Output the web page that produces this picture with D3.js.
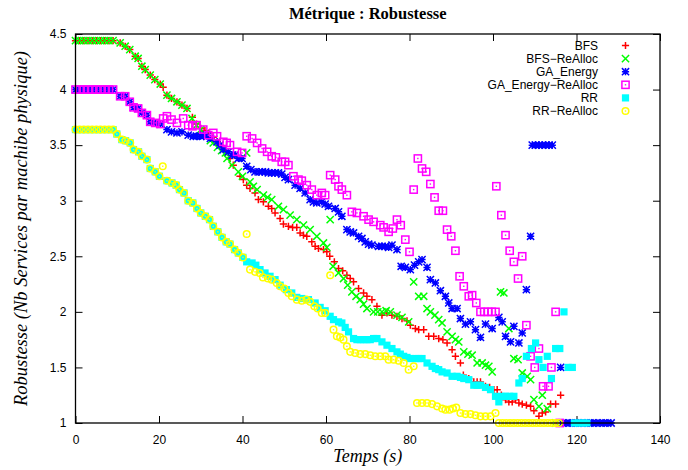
<!DOCTYPE html>
<html><head><meta charset="utf-8">
<script src="https://cdn.jsdelivr.net/npm/d3@7"></script>
<style>body{margin:0;background:#fff}svg{display:block}</style>
</head><body><svg id="c" width="688" height="470"></svg>
<script>
// ---- data (time in s, robustness) ----
const xTicks = [0,20,40,60,80,100,120,140];
const yTicks = [1,1.5,2,2.5,3,3.5,4,4.5];
const seriesNames = ["BFS","BFS\u2212ReAlloc","GA_Energy","GA_Energy\u2212ReAlloc","RR","RR\u2212ReAlloc"];

const BFS = [[0,4.44],[1,4.44],[2,4.44],[3,4.44],[4,4.44],[5,4.44],[6,4.44],[7,4.44],[8,4.44],[9,4.44],
[10.7,4.42],[11.9,4.39],[13,4.36],[14.3,4.30],[15,4.28],[15.9,4.21],[16.7,4.18],[17.9,4.13],[19,4.09],[20.3,4.05],[21,4.02],
[21.9,3.95],[23,3.92],[24.3,3.89],[25.5,3.86],[26.7,3.83],[28,3.75],[29,3.69],[30,3.65],[31,3.63],[32,3.61],[33,3.57],[34,3.53],
[35,3.49],[36,3.44],[37,3.38],[37.8,3.32],[39.4,3.22],[40.2,3.19],[41,3.14],[41.8,3.11],[43,3.07],[43.8,3.01],[45,2.99],[46.2,2.95],
[47,2.93],[47.8,2.89],[49,2.84],[49.8,2.79],[51,2.77],[52,2.76],[53,2.76],[53.8,2.71],[54.6,2.69],[55.4,2.68],[56.6,2.63],[57.4,2.59],
[58.2,2.57],[59.4,2.56],[60.2,2.54],[60.9,2.50],[62,2.45],[63,2.39],[64,2.37],[65,2.33],[65.8,2.30],[66.6,2.27],[67.8,2.21],[69,2.17],
[69.8,2.14],[71,2.11],[72.2,2.05],[73.4,1.97],[74.6,1.99],[75.8,1.97],[77,1.96],[78.2,1.94],[79.4,1.92],[80.2,1.88],[81.4,1.85],
[82.2,1.84],[83.4,1.84],[84.6,1.78],[85.8,1.78],[87,1.76],[88,1.75],[89,1.72],[90.2,1.66],[91,1.60],[92.2,1.54],[92.9,1.43],[94.2,1.40],
[95.4,1.37],[96.2,1.37],[97,1.37],[98.2,1.33],[99.2,1.32],[100.2,1.30],[101,1.30],[102,1.25],[103,1.21],[103.8,1.19],[104.6,1.19],
[105.4,1.21],[106.2,1.18],[107,1.17],[108,1.16],[109,1.15],[109.8,1.11],[111,1.06],[111.8,1.09],[112.6,1.10],[113.8,1.17],[115,1.17],[116.2,1.25]];

const BFS_REALLOC = [[0,4.44],[1,4.44],[2,4.44],[3,4.44],[4,4.44],[5,4.44],[6,4.44],[7,4.44],[8,4.44],[9,4.44],
[10.7,4.42],[11.9,4.39],[13,4.36],[14.3,4.30],[15,4.28],[15.9,4.21],[16.7,4.18],[17.9,4.13],[19,4.09],[20.3,4.05],[21.9,3.95],
[23,3.92],[24.3,3.89],[25.5,3.86],[26.7,3.83],[27.9,3.74],[29,3.68],[30,3.64],[31,3.60],[32.3,3.54],[33,3.52],[34,3.48],[35,3.45],
[35.9,3.43],[36.3,3.38],[37.5,3.32],[39,3.26],[40,3.22],[41,3.43],[41.8,3.17],[42.6,3.13],[43.5,3.10],[45,3.05],[46,3.03],[47,3.01],
[48.6,2.95],[49.8,2.92],[51.4,2.87],[53,2.83],[54.6,2.78],[56.2,2.74],[57.8,2.68],[59.4,2.62],[60.2,2.58],[61,2.83],[61.7,2.41],
[63,2.35],[64.2,2.30],[65.2,2.24],[66.2,2.18],[67.2,2.14],[68.2,2.11],[69,2.07],[69.8,2.03],[71.4,2.00],[72.4,2.00],[73.4,2.00],
[74.4,2.01],[75.4,2.00],[77,1.97],[78.2,1.95],[79.8,1.91],[81,2.27],[82.2,2.14],[83.4,2.14],[84.2,2.03],[85,2.00],[86.1,1.97],
[87,1.93],[87.8,1.90],[89,1.82],[90.2,1.78],[91,1.75],[91.8,1.73],[93,1.64],[94,1.62],[95,1.61],[96.2,1.54],[97.4,1.54],[98.2,1.52],
[99,1.51],[99.8,1.46],[101.8,2.18],[102.6,2.17],[103.8,1.85],[105,1.58],[106,1.57],[107,1.45],[108.2,1.42],[109,1.39],[109.8,1.21],
[111,1.15],[111.8,1.25],[113,1.13],[115,1.00]];

const GA_ENERGY = [[0,4.0],[1,4.0],[2,4.0],[3,4.0],[4,4.0],[5,4.0],[6,4.0],[7,4.0],[8,4.0],[9,4.0],
[10.7,3.94],[11.9,3.94],[13,3.89],[13.9,3.84],[15,3.83],[15.9,3.79],[17.1,3.77],[17.9,3.71],[19.1,3.70],[20.3,3.69],[21.9,3.64],
[23,3.62],[24.3,3.61],[25.5,3.62],[27,3.59],[28.2,3.58],[29,3.58],[30,3.58],[30.6,3.59],[31.5,3.58],[32.3,3.56],[33.9,3.53],
[34.6,3.50],[35.4,3.46],[36.6,3.44],[37.5,3.41],[38.2,3.41],[39,3.38],[39.9,3.38],[41,3.31],[42,3.28],[43,3.26],[44,3.26],[44.7,3.26],
[45.5,3.26],[46.2,3.25],[47,3.25],[47.8,3.25],[48.6,3.25],[49.4,3.24],[50.2,3.21],[51,3.19],[52.6,3.14],[53.8,3.11],[55,3.07],
[56.2,3.01],[57,2.99],[57.8,2.98],[59,2.99],[59.8,2.97],[60.6,2.95],[62.2,2.93],[63,2.90],[63.8,2.86],[65,2.74],[65.8,2.72],
[66.6,2.71],[67.8,2.68],[68.6,2.66],[69.4,2.63],[70.2,2.61],[71,2.60],[72.6,2.59],[73.4,2.59],[74.2,2.59],[75,2.58],[75.8,2.60],
[77,2.56],[78,2.41],[79,2.40],[80.2,2.38],[81.2,2.42],[82.2,2.45],[83,2.47],[84.2,2.40],[85,2.29],[86.2,2.26],[87.4,2.19],[88.6,2.14],
[89.4,2.08],[90.2,2.03],[91.4,2.03],[92.2,1.94],[93.4,1.89],[94.6,1.91],[95.8,1.84],[97,1.77],[98.2,1.89],[99.8,1.85],[101.4,1.95],
[102.2,1.91],[103,1.78],[104.2,1.73],[105,1.87],[106.2,1.72],[107,1.81],[108,2.20],[109,2.68],[109.4,3.5],[110.2,3.5],[111,3.5],
[111.8,3.5],[112.6,3.5],[113.4,3.5],[114.2,3.5],[116.2,1.50],[116.6,1.0],[117.5,1.0],[118.4,1.0],[119.3,1.0],[120.2,1.0],[121.1,1.0],
[122,1.0],[122.9,1.0],[123.8,1.0],[124.7,1.0],[125.6,1.0],[126.5,1.0],[127.4,1.0],[128.3,1.0]];

const GA_ENERGY_REALLOC = [[0,4.0],[1,4.0],[2,4.0],[3,4.0],[4,4.0],[5,4.0],[6,4.0],[7,4.0],[8,4.0],[9,4.0],
[10.7,3.94],[11.9,3.94],[13,3.89],[13.9,3.84],[15,3.83],[15.9,3.79],[17.1,3.77],[17.9,3.71],[19.1,3.70],[20.3,3.69],[21,3.74],
[21.9,3.76],[23,3.73],[24.3,3.70],[25.8,3.74],[27,3.68],[28,3.67],[29,3.68],[30.6,3.64],[31.8,3.59],[33,3.61],[33.9,3.58],[35.4,3.53],
[36.2,3.52],[37,3.50],[38.7,3.44],[39.9,3.43],[41,3.58],[42.3,3.56],[43.5,3.52],[44.7,3.47],[45.9,3.44],[47,3.40],[48,3.39],
[49.4,3.35],[50.2,3.35],[51,3.32],[52.2,3.22],[53.4,3.19],[54.2,3.18],[55.4,3.14],[56.6,3.10],[57.8,3.05],[59,3.07],[59.8,3.05],
[61,3.23],[62.2,3.19],[63,3.13],[63.8,3.10],[65,3.05],[66.2,2.90],[67.4,2.89],[69,2.86],[70.2,2.83],[71.4,2.81],[73,2.78],[73.8,2.76],
[75,2.72],[76,2.75],[77,2.83],[77.9,2.78],[79,2.65],[80,2.54],[81,3.10],[82,3.38],[83,3.29],[84,3.26],[85,3.15],[86,3.03],[87,2.91],
[88,2.91],[89,2.74],[90,2.68],[91,2.55],[92,2.32],[93,2.23],[94.2,2.14],[95,2.15],[96,2.08],[97,2.00],[97.9,2.00],[98.8,2.00],
[99.7,2.00],[100.6,2.00],[100.8,3.13],[102,2.87],[103,2.69],[104,2.55],[105,2.45],[106,2.30],[107,2.50],[108,1.88],[109,1.60],
[110,1.50],[111,1.67],[112,1.33],[113.3,1.33],[114,1.50],[115,2.00],[116,1.00]];

const RR = [[0,3.64],[1,3.64],[2,3.64],[3,3.64],[4,3.64],[5,3.64],[6,3.64],[7,3.64],[8,3.64],[9,3.64],
[9.9,3.60],[11.1,3.55],[12,3.54],[13.1,3.52],[13.9,3.46],[15.1,3.44],[15.9,3.40],[17.1,3.37],[17.9,3.29],[19.1,3.26],[20.1,3.22],
[21.9,3.18],[23.1,3.16],[24.1,3.14],[24.9,3.10],[26,3.07],[27,3.00],[28.1,2.98],[29.1,2.93],[30,2.89],[31.1,2.86],[32.1,2.83],
[33,2.77],[34.1,2.72],[35.1,2.67],[36.1,2.63],[37,2.61],[38.1,2.56],[39,2.53],[40.1,2.49],[41,2.45],[42.3,2.44],[43.2,2.42],
[44.2,2.38],[45.4,2.35],[46.6,2.32],[47.8,2.29],[49,2.24],[50.5,2.20],[51.8,2.17],[53,2.13],[54.2,2.12],[55.8,2.11],[57.4,2.08],
[58.6,2.04],[59.8,2.01],[61,1.96],[61.8,1.93],[63,1.91],[63.8,1.90],[64.6,1.86],[65.4,1.82],[66.6,1.76],[67.4,1.75],[68.2,1.75],
[69,1.75],[69.8,1.75],[70.6,1.75],[71.4,1.76],[72.2,1.76],[73.4,1.73],[74.6,1.70],[75.8,1.67],[77,1.64],[77.8,1.62],[78.6,1.60],
[79.4,1.59],[80.2,1.58],[81.4,1.58],[82.2,1.58],[83,1.58],[84.2,1.54],[85.4,1.51],[86.2,1.49],[87,1.48],[87.8,1.46],[89,1.45],
[90.2,1.42],[91.4,1.42],[92.2,1.41],[93,1.40],[94.2,1.39],[95.4,1.34],[96.2,1.34],[97,1.34],[98.2,1.32],[99.4,1.30],[100.6,1.24],
[101.4,1.19],[102.2,1.24],[103,1.24],[104,1.24],[105,1.24],[106.2,1.36],[107,1.40],[108,1.60],[109.2,1.67],[110.2,1.72],[111,1.57],
[112,1.50],[113,1.60],[114,1.40],[115,1.67],[116,1.67],[117,2.00],[118,1.50],[119,1.50],[119.5,1.0],[120.5,1.0],[121.5,1.0],[122.5,1.0]];

const RR_REALLOC = [[0,3.64],[1,3.64],[2,3.64],[3,3.64],[4,3.64],[5,3.64],[6,3.64],[7,3.64],[8,3.64],[9,3.64],
[9.9,3.60],[11.1,3.55],[12,3.54],[13.1,3.52],[13.9,3.46],[15.1,3.44],[15.9,3.40],[17.1,3.37],[17.9,3.29],[19.1,3.26],[20.1,3.22],
[20.9,3.31],[21.9,3.18],[23.1,3.16],[24.1,3.14],[24.9,3.10],[26,3.07],[27,3.00],[28.1,2.98],[29.1,2.93],[30,2.89],[31.1,2.86],
[32.1,2.83],[33,2.77],[34.1,2.72],[35.1,2.67],[36.1,2.63],[37,2.61],[38.1,2.56],[39,2.53],[40.1,2.49],[41,2.70],[41.8,2.38],[43,2.36],
[44.1,2.35],[44.9,2.31],[46.1,2.30],[47,2.29],[48.2,2.26],[49,2.23],[50,2.21],[51,2.17],[51.8,2.14],[53,2.11],[54.2,2.10],[55.3,2.11],
[56.2,2.09],[57.2,2.05],[58,2.03],[59,1.99],[59.8,1.99],[61,2.33],[61.8,1.84],[62.6,1.78],[63.4,1.77],[64.2,1.75],[65,1.69],[65.8,1.64],
[67,1.63],[68.2,1.62],[69.4,1.62],[70.6,1.61],[71.8,1.60],[73,1.60],[74.2,1.60],[75,1.57],[76.2,1.57],[77.4,1.56],[78.6,1.54],
[79.8,1.48],[81,1.51],[81.8,1.18],[83,1.18],[84.2,1.18],[85.4,1.17],[86.6,1.15],[87.8,1.13],[88.6,1.12],[89.6,1.12],[90.4,1.13],
[91.2,1.14],[92.2,1.09],[93.4,1.08],[94.6,1.08],[95.8,1.07],[97,1.06],[98.2,1.06],[99.4,1.06],[100.6,1.09],[101.4,1.0],[102.3,1.0],
[103.2,1.0],[104.1,1.0],[105,1.0],[105.9,1.0],[106.8,1.0],[107.7,1.0],[108.6,1.0],[109.5,1.0],[110.4,1.0],[111.3,1.0],[112.2,1.0],
[113.1,1.0],[114,1.0],[114.9,1.0],[115.8,1.0]];

const seriesData = [BFS, BFS_REALLOC, GA_ENERGY, GA_ENERGY_REALLOC, RR, RR_REALLOC];
const colors = ["#ff0000","#00ff00","#0000ff","#ff00ff","#00ffff","#ffff00"];
const markers = ["plus","cross","star","boxdot","fbox","circdot"];

// ---- drawing ----
const svg = d3.select("#c");
const L = 75.5, R = 660, T = 34, B = 423;
const x = d3.scaleLinear().domain([0,140]).range([L,R]);
const y = d3.scaleLinear().domain([1,4.5]).range([B,T]);
const sans = "'Liberation Sans', Arial, Helvetica, sans-serif";
const serif = "'Liberation Serif', 'Times New Roman', serif";

svg.append("text").attr("x",(L+R)/2).attr("y",19).attr("text-anchor","middle")
  .attr("font-family",serif).attr("font-weight","bold").attr("font-size",16.5).text("Métrique : Robustesse");

// axes with inward ticks (mirrored)
const tl = 7;
svg.append("g").attr("transform",`translate(0,${B})`).call(d3.axisBottom(x).tickValues(xTicks).tickSize(-tl).tickPadding(tl+5).tickFormat(d3.format("d")))
  .call(g=>{g.select(".domain").remove();g.selectAll("text").attr("font-family",sans).attr("font-size",12).attr("fill","#000");});
svg.append("g").attr("transform",`translate(0,${T})`).call(d3.axisTop(x).tickValues(xTicks).tickSize(-tl).tickFormat(""))
  .call(g=>g.select(".domain").remove());
svg.append("g").attr("transform",`translate(${L},0)`).call(d3.axisLeft(y).tickValues(yTicks).tickSize(-tl).tickPadding(tl+2).tickFormat(d=>d3.format("")(d)))
  .call(g=>{g.select(".domain").remove();g.selectAll("text").attr("font-family",sans).attr("font-size",12).attr("fill","#000");});
svg.append("g").attr("transform",`translate(${R},0)`).call(d3.axisRight(y).tickValues(yTicks).tickSize(-tl).tickFormat(""))
  .call(g=>g.select(".domain").remove());
svg.selectAll(".tick line").attr("stroke","#000").attr("stroke-width",1);

svg.append("text").attr("x",(L+R)/2).attr("y",462).attr("text-anchor","middle")
  .attr("font-family",serif).attr("font-style","italic").attr("font-size",18).text("Temps (s)");
svg.append("text").attr("transform",`translate(27,${(T+B)/2}) rotate(-90)`).attr("text-anchor","middle")
  .attr("font-family",serif).attr("font-style","italic").attr("font-size",18.5)
  .text("Robustesse (Nb Services par machibe physique)");

const s = 3.6, sw = 1.5;
function drawMarker(g, type, color, cx, cy){
  if(type==="plus") g.append("path").attr("d",`M${cx-s},${cy}H${cx+s}M${cx},${cy-s}V${cy+s}`).attr("stroke",color).attr("stroke-width",sw).attr("fill","none");
  else if(type==="cross") g.append("path").attr("d",`M${cx-s},${cy-s}L${cx+s},${cy+s}M${cx-s},${cy+s}L${cx+s},${cy-s}`).attr("stroke",color).attr("stroke-width",sw).attr("fill","none");
  else if(type==="star") g.append("path").attr("d",`M${cx-s},${cy}H${cx+s}M${cx},${cy-s}V${cy+s}M${cx-s},${cy-s}L${cx+s},${cy+s}M${cx-s},${cy+s}L${cx+s},${cy-s}`).attr("stroke",color).attr("stroke-width",sw).attr("fill","none");
  else if(type==="boxdot"){ g.append("rect").attr("x",cx-s).attr("y",cy-s).attr("width",2*s).attr("height",2*s).attr("fill","none").attr("stroke",color).attr("stroke-width",sw);
    g.append("rect").attr("x",cx-0.7).attr("y",cy-0.7).attr("width",1.4).attr("height",1.4).attr("fill",color); }
  else if(type==="fbox") g.append("rect").attr("x",cx-s).attr("y",cy-s).attr("width",2*s).attr("height",2*s).attr("fill",color);
  else if(type==="circdot"){ g.append("circle").attr("cx",cx).attr("cy",cy).attr("r",s-0.3).attr("fill","none").attr("stroke",color).attr("stroke-width",sw);
    g.append("rect").attr("x",cx-0.7).attr("y",cy-0.7).attr("width",1.4).attr("height",1.4).attr("fill",color); }
}

const plot = svg.append("g");
seriesData.forEach((data,i)=>{
  const g = plot.append("g");
  data.forEach(d=>drawMarker(g, markers[i], colors[i], x(d[0]), y(d[1])));
});

// border
svg.append("rect").attr("x",L).attr("y",T).attr("width",R-L).attr("height",B-T).attr("fill","none").attr("stroke","#000").attr("stroke-width",1.3);

// legend
const lg = svg.append("g");
seriesNames.forEach((n,i)=>{
  const ly = 45.5 + i*13.1;
  lg.append("text").attr("x",598).attr("y",ly).attr("dy","0.35em").attr("text-anchor","end")
    .attr("font-family",sans).attr("font-size",12).text(n);
  drawMarker(lg, markers[i], colors[i], 625.5, ly);
});
</script></body></html>
